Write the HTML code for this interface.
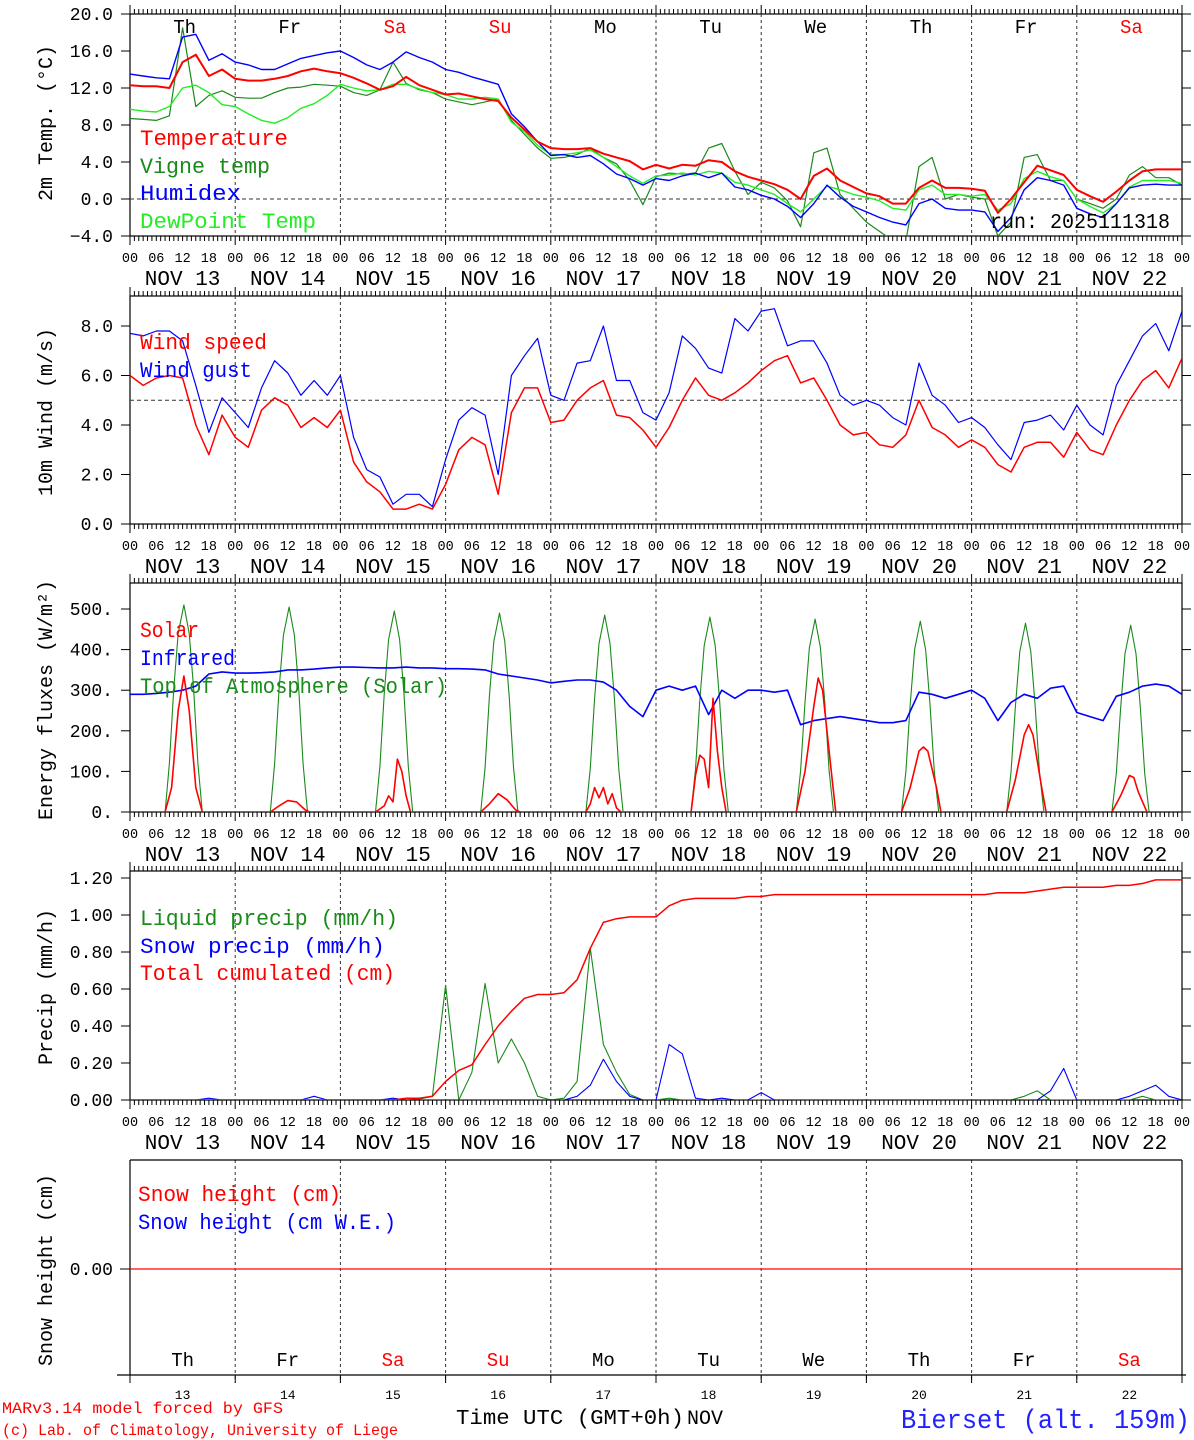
<!DOCTYPE html>
<html><head><meta charset="utf-8">
<style>
html,body{margin:0;padding:0;background:#fff;}
svg{display:block;}
text{font-family:"Liberation Mono","DejaVu Sans Mono",monospace;}
</style></head>
<body>
<svg id="chart" width="1194" height="1440" viewBox="0 0 1194 1440" xmlns="http://www.w3.org/2000/svg">
<defs>
<clipPath id="c1"><rect x="130" y="14" width="1052" height="222"/></clipPath>
<clipPath id="c2"><rect x="130" y="296" width="1052" height="228"/></clipPath>
<clipPath id="c3"><rect x="130" y="583" width="1052" height="229"/></clipPath>
<clipPath id="c4"><rect x="130" y="871" width="1052" height="229"/></clipPath>
</defs>
</svg>
<script>
// ---- data (3-hourly unless stated) ----
const dayNames = ["Th","Fr","Sa","Su","Mo","Tu","We","Th","Fr","Sa"];
const dayNums = ["13","14","15","16","17","18","19","20","21","22"];
const hourTicks = ["00","06","12","18"];
const tempTicks = [-4,0,4,8,12,16,20];
const tempTickLabels = ["\u22124.0","0.0","4.0","8.0","12.0","16.0","20.0"];
const windTicks = [0,2,4,6,8];
const windTickLabels = ["0.0","2.0","4.0","6.0","8.0"];
const energyTicks = [0,100,200,300,400,500];
const energyTickLabels = ["0.","100.","200.","300.","400.","500."];
const precipTicks = [0,0.2,0.4,0.6,0.8,1.0,1.2];
const precipTickLabels = ["0.00","0.20","0.40","0.60","0.80","1.00","1.20"];

const temperature = [12.3,12.2,12.2,12.0,14.8,15.6,13.3,14.0, 13.0,12.8,12.8,13.0,13.3,13.8,14.1,13.8, 13.6,13.1,12.5,11.8,12.2,13.2,12.3,11.8, 11.3,11.4,11.1,10.8,10.6,8.8,7.5,6.2, 5.5,5.4,5.4,5.5,4.9,4.5,4.1,3.2, 3.7,3.3,3.7,3.6,4.2,4.0,3.0,2.4, 2.0,1.6,1.0,0.0,2.5,3.3,2.0,1.3, 0.6,0.3,-0.5,-0.5,1.2,2.0,1.2,1.2, 1.1,0.9,-1.5,0.0,1.8,3.6,3.1,2.6, 1.0,0.3,-0.3,0.8,2.0,3.0,3.2,3.2, 3.2];
const humidex = [13.5,13.3,13.1,13.0,17.5,17.8,15.0,15.7, 14.8,14.5,14.0,14.0,14.6,15.2,15.5,15.8, 16.0,15.3,14.5,14.0,14.8,15.9,15.3,14.8, 14.0,13.7,13.2,12.8,12.4,9.2,7.8,6.2, 4.7,4.8,4.5,4.7,3.8,2.7,2.2,1.5, 2.2,2.0,2.5,2.8,2.3,2.8,1.3,1.0, 0.4,0.0,-0.8,-2.0,-0.5,1.5,0.2,-0.8, -1.4,-2.0,-2.5,-2.8,-0.5,0.0,-1.0,-1.2, -1.2,-1.4,-3.5,-2.0,1.0,2.3,2.0,1.5, -1.0,-1.6,-2.0,-0.5,1.2,1.5,1.6,1.5, 1.5];
const vigne = [8.7,8.6,8.5,9.0,18.5,10.0,11.2,11.7, 11.0,10.9,10.9,11.5,12.0,12.1,12.4,12.3, 12.2,11.5,11.2,11.8,14.8,12.5,11.8,11.5, 10.8,10.5,10.2,10.5,10.8,8.5,7.0,5.5, 4.4,4.5,4.8,5.5,4.5,3.8,2.0,-0.6, 2.4,2.8,2.7,2.8,5.5,6.0,3.0,0.5, 1.8,1.2,-0.2,-3.0,5.0,5.5,0.5,-1.0, -2.5,-3.5,-4.5,-4.5,3.5,4.5,0.0,0.5, 0.2,0.0,-4.0,-2.5,4.5,4.8,2.0,2.0, 0.0,-0.5,-1.0,0.0,2.6,3.5,2.3,2.3, 1.5];
const dewpoint = [9.7,9.5,9.4,10.0,12.0,12.3,11.5,10.2, 10.0,9.2,8.5,8.2,8.8,9.8,10.3,11.2, 12.4,12.0,11.7,11.8,12.4,12.4,11.9,11.5, 11.3,10.8,10.8,11.0,10.8,8.3,7.3,5.8, 4.8,4.8,5.0,5.3,4.5,3.5,2.5,1.7, 2.5,2.6,2.8,2.6,3.0,2.8,1.8,1.5, 1.0,0.5,-0.5,-1.4,0.0,1.4,1.0,0.5, 0.2,-0.2,-1.0,-1.2,1.0,1.5,0.5,0.5, 0.3,0.5,-1.2,-0.5,2.2,3.0,2.4,2.0, 0.0,-0.8,-1.5,-0.5,1.3,2.0,2.0,2.0, 1.7];

const windSpeed = [6.0,5.6,5.9,6.0,5.9,4.0,2.8,4.4, 3.5,3.1,4.6,5.1,4.8,3.9,4.3,3.9, 4.6,2.5,1.7,1.3,0.6,0.6,0.8,0.6, 1.6,3.0,3.5,3.2,1.2,4.5,5.5,5.5, 4.1,4.2,5.0,5.5,5.8,4.4,4.3,3.8, 3.1,3.9,5.0,5.9,5.2,5.0,5.3,5.7, 6.2,6.6,6.8,5.7,5.9,5.0,4.0,3.6, 3.7,3.2,3.1,3.6,5.0,3.9,3.6,3.1, 3.4,3.1,2.4,2.1,3.1,3.3,3.3,2.7, 3.7,3.0,2.8,4.0,5.0,5.8,6.2,5.5, 6.7];
const windGust = [7.7,7.6,7.8,7.8,7.4,5.6,3.7,5.1, 4.5,3.9,5.5,6.6,6.1,5.2,5.8,5.2, 6.0,3.5,2.2,1.9,0.8,1.2,1.2,0.7, 2.6,4.2,4.7,4.4,2.0,6.0,6.8,7.5, 5.2,5.0,6.5,6.6,8.0,5.8,5.8,4.5, 4.2,5.3,7.6,7.1,6.3,6.1,8.3,7.8, 8.6,8.7,7.2,7.4,7.4,6.5,5.2,4.8, 5.0,4.8,4.3,4.0,6.5,5.2,4.8,4.1, 4.3,3.9,3.2,2.6,4.1,4.2,4.4,3.8, 4.8,4.0,3.6,5.6,6.6,7.6,8.1,7.0, 8.6];

const infrared = [290,290,292,295,300,310,340,345, 342,342,343,345,350,350,352,355, 357,357,356,355,355,357,355,355, 353,353,352,350,340,335,330,325, 318,322,325,325,320,300,260,235, 300,310,300,310,240,300,280,300, 300,295,300,215,225,230,235,230, 225,220,220,225,295,290,280,290, 300,280,225,270,290,280,305,310, 245,235,225,285,295,310,315,310, 290];
const toaHours = [0,8,9,10,11,12.3,13.5,14.5,15.5,16.5, 32,33,34,35,36.3,37.5,38.5,39.5,40.5, 56,57,58,59,60.3,61.5,62.5,63.5,64.5, 80,81,82,83,84.3,85.5,86.5,87.5,88.5, 104,105,106,107,108.3,109.5,110.5,111.5,112.5, 128,129,130,131,132.3,133.5,134.5,135.5,136.5, 152,153,154,155,156.3,157.5,158.5,159.5,160.5, 176,177,178,179,180.3,181.5,182.5,183.5,184.5, 200,201,202,203,204.3,205.5,206.5,207.5,208.5, 224,225,226,227,228.3,229.5,230.5,231.5,232.5, 240];
const toaValues = [0,0,120,305,440,510,440,305,120,0, 0,118,300,435,505,435,300,118,0, 0,112,290,425,495,425,290,112,0, 0,110,285,420,490,420,285,110,0, 0,108,280,415,485,415,280,108,0, 0,105,275,410,480,410,275,105,0, 0,102,270,405,475,405,270,102,0, 0,100,265,400,470,400,265,100,0, 0,98,260,395,465,395,260,98,0, 0,95,255,390,460,390,255,95,0, 0];
const solarHours = [0,8,9.5,11,12.3,13.5,15,16.5, 32,34,36,38,40,41, 56,58,59,60,61,62,63,64, 80,82,84,86,88,89, 104,105,106,107,108,109,110,111,112, 128,129,130,131,132,133,134,135,136, 152,154,156,157,158,160,161, 176,178,180,181,182,184,185, 200,202,204,205,206,208,209, 224,226,228,229,230,232,240];
const solarValues = [0,0,60,250,335,250,60,0, 0,15,28,25,5,0, 0,15,40,25,130,100,40,0, 0,20,45,30,5,0, 0,20,60,35,60,20,45,10,0, 0,90,140,130,60,280,150,60,0, 0,100,260,330,300,100,0, 0,60,150,160,150,60,0, 0,80,190,215,190,60,0, 0,40,90,85,50,0,0];

const liquidPrecip = [0,0,0,0,0,0,0,0, 0,0,0,0,0,0,0,0, 0,0,0,0,0.003,0,0.005,0.02, 0.62,0.0,0.15,0.63,0.2,0.33,0.2,0.02, 0,0.01,0.1,0.82,0.3,0.15,0.03,0, 0,0.01,0,0,0,0,0,0, 0,0,0,0,0,0,0,0, 0,0,0,0,0,0,0,0, 0,0,0,0,0.02,0.05,0,0, 0,0,0,0,0,0.02,0,0, 0];
const snowPrecip = [0,0,0,0,0,0,0.01,0, 0,0,0,0,0,0,0.02,0, 0,0,0,0,0.01,0,0,0, 0,0,0,0,0,0,0,0, 0,0,0.02,0.08,0.22,0.1,0.02,0, 0,0.3,0.25,0.01,0,0.01,0,0, 0.04,0,0,0,0,0,0,0, 0,0,0,0,0,0,0,0, 0,0,0,0,0,0,0.05,0.17, 0,0,0,0,0.02,0.05,0.08,0.02, 0];
const totalCum = [0,0,0,0,0,0,0,0, 0,0,0,0,0,0,0,0, 0,0,0,0,0,0.01,0.01,0.02, 0.10,0.16,0.19,0.30,0.40,0.48,0.55,0.57, 0.57,0.58,0.65,0.82,0.96,0.98,0.99,0.99, 0.99,1.05,1.08,1.09,1.09,1.09,1.09,1.10, 1.10,1.11,1.11,1.11,1.11,1.11,1.11,1.11, 1.11,1.11,1.11,1.11,1.11,1.11,1.11,1.11, 1.11,1.11,1.12,1.12,1.12,1.13,1.14,1.15, 1.15,1.15,1.15,1.16,1.16,1.17,1.19,1.19, 1.19];
const snowHeight = [0,0];

// ---- layout ----
const NS = "http://www.w3.org/2000/svg";
const svg = document.getElementById("chart");
const X0 = 130, X1 = 1182, HOURS = 240, STEP = 3;
function xOf(h){ return X0 + h*(X1-X0)/HOURS; }
const panels = [
  {top:14, bottom:236, min:-4, max:20, clip:"c1", name:"temperature-panel"},
  {top:296, bottom:524, min:0, max:(524-296)/24.75, clip:"c2", name:"wind-panel"},
  {top:583, bottom:812, min:0, max:(812-583)/0.406, clip:"c3", name:"energy-panel"},
  {top:871, bottom:1100, min:0, max:(1100-871)/185, clip:"c4", name:"precip-panel"},
  {top:1160, bottom:1375, min:-1, max:(1375-1160)/106 - 1, clip:null, name:"snow-panel"}
];
function yOf(p, v){ return p.bottom - (v - p.min)/(p.max - p.min)*(p.bottom - p.top); }
function el(tag, attrs, parent){
  const e = document.createElementNS(NS, tag);
  for (const k in attrs) e.setAttribute(k, attrs[k]);
  (parent||svg).appendChild(e);
  return e;
}
function txt(s, x, y, size, color, anchor, name, extra){
  const t = el("text", Object.assign({x:x, y:y, "font-size":size, fill:color, "text-anchor":anchor||"start"}, extra||{}));
  t.textContent = s;
  
  
  return t;
}
function series(p, vals, color, width, name){
  const pts = vals.map((v,i)=> xOf(i*STEP).toFixed(1)+","+yOf(p,v).toFixed(1)).join(" ");
  const e = el("polyline", {points:pts, fill:"none", stroke:color, "stroke-width":width, "stroke-linejoin":"round", "clip-path": p.clip ? "url(#"+p.clip+")" : ""});
  
  
}
function seriesXY(p, hs, vals, color, width, name){
  const pts = vals.map((v,i)=> xOf(hs[i]).toFixed(1)+","+yOf(p,v).toFixed(1)).join(" ");
  const e = el("polyline", {points:pts, fill:"none", stroke:color, "stroke-width":width, "stroke-linejoin":"round", "clip-path":"url(#"+p.clip+")"});
  
  
}

// ---- frames, grid, ticks ----
panels.forEach((p, pi)=>{
  const r = el("rect", {x:X0, y:p.top, width:X1-X0, height:p.bottom-p.top, fill:"none", stroke:(pi==4?"none":"#000"), "stroke-width":1.2});
  
  
  for (let d=1; d<10; d++){
    const g = el("line", {x1:xOf(d*24), x2:xOf(d*24), y1:p.top, y2:(pi==4?1383:p.bottom), stroke:"#333", "stroke-width":1, "stroke-dasharray":"3,3"});
    
    
  }
  if (pi < 4){
    for (let h=0; h<=HOURS; h++){
      const len = (h%24==0) ? 9 : 5;
      const t1 = el("line", {x1:xOf(h), x2:xOf(h), y1:p.top-len, y2:p.top, stroke:"#000", "stroke-width":1});
      
      
      const t2 = el("line", {x1:xOf(h), x2:xOf(h), y1:p.bottom, y2:p.bottom+len, stroke:"#000", "stroke-width":1});
      
      
    }
    for (let d=0; d<10; d++){
      for (let k=0; k<4; k++){
        txt(hourTicks[k], xOf(d*24+k*6), p.bottom+26, 13.5, "#000", "middle", "hour-tick-label");
      }
      txt("NOV "+dayNums[d], xOf(d*24+12), p.bottom+49, 21, "#000", "middle", "date-label");
    }
    txt("00", xOf(240), p.bottom+26, 13.5, "#000", "middle", "hour-tick-label");
  }
});
// P5 extra lines
(function(){
  const p = panels[4];
  const l = el("line", {x1:130, x2:130, y1:p.top, y2:p.bottom, stroke:"#000", "stroke-width":1.2});
  
  
  const r = el("line", {x1:1182, x2:1182, y1:p.top, y2:p.bottom, stroke:"#000", "stroke-width":1.2});
  
  
  const b = el("line", {x1:117, x2:1186, y1:p.bottom, y2:p.bottom, stroke:"#000", "stroke-width":1.2});
  
  
  const tp = el("line", {x1:130, x2:1182, y1:p.top, y2:p.top, stroke:"#000", "stroke-width":1.2});
  
  
  for (let d=0; d<=10; d++){
    const t = el("line", {x1:xOf(d*24), x2:xOf(d*24), y1:p.bottom, y2:p.bottom+8, stroke:"#000", "stroke-width":1});
    
    
  }
  for (let d=0; d<10; d++){
    txt(dayNames[d], xOf(d*24+12), 1366, 19, (d==2||d==3||d==9)?"#ff0000":"#000", "middle", "day-name-label");
    txt(dayNums[d], xOf(d*24+12), 1399, 13, "#000", "middle", "day-number-label");
  }
  const yl = el("line", {x1:120, x2:130, y1:yOf(p,0), y2:yOf(p,0), stroke:"#000", "stroke-width":1});
  
  
  txt("0.00", 113, yOf(p,0)+6, 18, "#000", "end", "y-tick-label");
})();
// day names top of P1
for (let d=0; d<10; d++){
  txt(dayNames[d], xOf(d*24+12)+2, 33, 19, (d==2||d==3||d==9)?"#ff0000":"#000", "middle", "day-name-label");
}
// y ticks
function yTicks(p, vals, labels){
  vals.forEach((v,i)=>{
    const y = yOf(p, v);
    const a = el("line", {x1:121, x2:130, y1:y, y2:y, stroke:"#000", "stroke-width":1});
    
    
    const b = el("line", {x1:1182, x2:1191, y1:y, y2:y, stroke:"#000", "stroke-width":1});
    
    
    txt(labels[i], 113, y+6, 18, "#000", "end", "y-tick-label");
  });
}
yTicks(panels[0], tempTicks, tempTickLabels);
yTicks(panels[1], windTicks, windTickLabels);
yTicks(panels[2], energyTicks, energyTickLabels);
yTicks(panels[3], precipTicks, precipTickLabels);

// reference dashed lines
(function(){
  const z = el("line", {x1:130, x2:1182, y1:yOf(panels[0],0), y2:yOf(panels[0],0), stroke:"#333", "stroke-dasharray":"4,3", "stroke-width":1});
  
  
  const w = el("line", {x1:130, x2:1182, y1:yOf(panels[1],5), y2:yOf(panels[1],5), stroke:"#333", "stroke-dasharray":"4,3", "stroke-width":1});
  
  
})();

// y-axis titles
function ytitle(s, cy, name){
  txt(s, 52, cy, 20, "#000", "middle", name, {transform:"rotate(-90 52 "+cy+")"});
}
ytitle("2m Temp. (\u00B0C)", 123, "y-axis-title-temp");
ytitle("10m Wind (m/s)", 412, "y-axis-title-wind");
ytitle("Energy fluxes (W/m\u00B2)", 700, "y-axis-title-energy");
ytitle("Precip (mm/h)", 987, "y-axis-title-precip");
ytitle("Snow height (cm)", 1270, "y-axis-title-snow");

// ---- series ----
series(panels[0], vigne, "#1a8a1a", 1.2, "vigne-temp-line");
series(panels[0], dewpoint, "#22ee22", 1.4, "dewpoint-line");
series(panels[0], humidex, "#0000ff", 1.4, "humidex-line");
series(panels[0], temperature, "#ff0000", 2, "temperature-line");

series(panels[1], windGust, "#0000ff", 1.2, "wind-gust-line");
series(panels[1], windSpeed, "#ff0000", 1.5, "wind-speed-line");

seriesXY(panels[2], toaHours, toaValues, "#1a8a1a", 1.1, "toa-solar-line");
series(panels[2], infrared, "#0000ff", 1.6, "infrared-line");
seriesXY(panels[2], solarHours, solarValues, "#ff0000", 1.6, "solar-line");

series(panels[3], liquidPrecip, "#1a8a1a", 1.1, "liquid-precip-line");
series(panels[3], snowPrecip, "#0000ff", 1.1, "snow-precip-line");
series(panels[3], totalCum, "#ff0000", 1.5, "total-cumulated-line");

(function(){
  const p = panels[4];
  const pts = snowHeight.map((v,i)=> xOf(i*HOURS).toFixed(1)+","+yOf(p,v).toFixed(1)).join(" ");
  const e = el("polyline", {points:pts, fill:"none", stroke:"#ff0000", "stroke-width":1.3});
  
  
})();

// ---- legends ----
const LA = "spacingAndGlyphs";
txt("Temperature", 140, 145, 22, "#ff0000", "start", "legend-temperature", {textLength:148, lengthAdjust:LA});
txt("Vigne temp", 140, 173, 22, "#1a8a1a", "start", "legend-vigne-temp", {textLength:130, lengthAdjust:LA});
txt("Humidex", 140, 200, 22, "#0000ff", "start", "legend-humidex", {textLength:101, lengthAdjust:LA});
txt("DewPoint Temp", 140, 228, 22, "#22ee22", "start", "legend-dewpoint", {textLength:176, lengthAdjust:LA});
txt("run: 2025111318", 990, 228, 21, "#000", "start", "run-label", {textLength:180, lengthAdjust:LA});
txt("Wind speed", 140, 349, 22, "#ff0000", "start", "legend-wind-speed", {textLength:127, lengthAdjust:LA});
txt("Wind gust", 140, 377, 22, "#0000ff", "start", "legend-wind-gust", {textLength:112, lengthAdjust:LA});
txt("Solar", 140, 637, 22, "#ff0000", "start", "legend-solar", {textLength:59, lengthAdjust:LA});
txt("Infrared", 140, 665, 22, "#0000ff", "start", "legend-infrared", {textLength:95, lengthAdjust:LA});
txt("Top of Atmosphere (Solar)", 140, 693, 22, "#1a8a1a", "start", "legend-toa", {textLength:307, lengthAdjust:LA});
txt("Liquid precip (mm/h)", 140, 925, 22, "#1a8a1a", "start", "legend-liquid-precip", {textLength:258, lengthAdjust:LA});
txt("Snow precip (mm/h)", 140, 953, 22, "#0000ff", "start", "legend-snow-precip", {textLength:245, lengthAdjust:LA});
txt("Total cumulated (cm)", 140, 980, 22, "#ff0000", "start", "legend-total-cumulated", {textLength:255, lengthAdjust:LA});
txt("Snow height (cm)", 138, 1201, 22, "#ff0000", "start", "legend-snow-height", {textLength:203, lengthAdjust:LA});
txt("Snow height (cm W.E.)", 138, 1229, 22, "#0000ff", "start", "legend-snow-height-we", {textLength:258, lengthAdjust:LA});

// ---- footer ----
txt("MARv3.14 model forced by GFS", 2, 1413, 16, "#ff0000", "start", "model-credit", {textLength:281, lengthAdjust:LA});
txt("(c) Lab. of Climatology, University of Liege", 2, 1435, 16, "#ff0000", "start", "lab-credit", {textLength:396, lengthAdjust:LA});
txt("Time UTC (GMT+0h)", 456, 1424, 21, "#000", "start", "x-axis-title", {textLength:228, lengthAdjust:LA});
txt("NOV", 687, 1424, 20, "#000", "start", "x-axis-month");
txt("Bierset (alt. 159m)", 901, 1428, 27, "#2222ff", "start", "station-label", {textLength:289, lengthAdjust:LA});
</script>
</body></html>
